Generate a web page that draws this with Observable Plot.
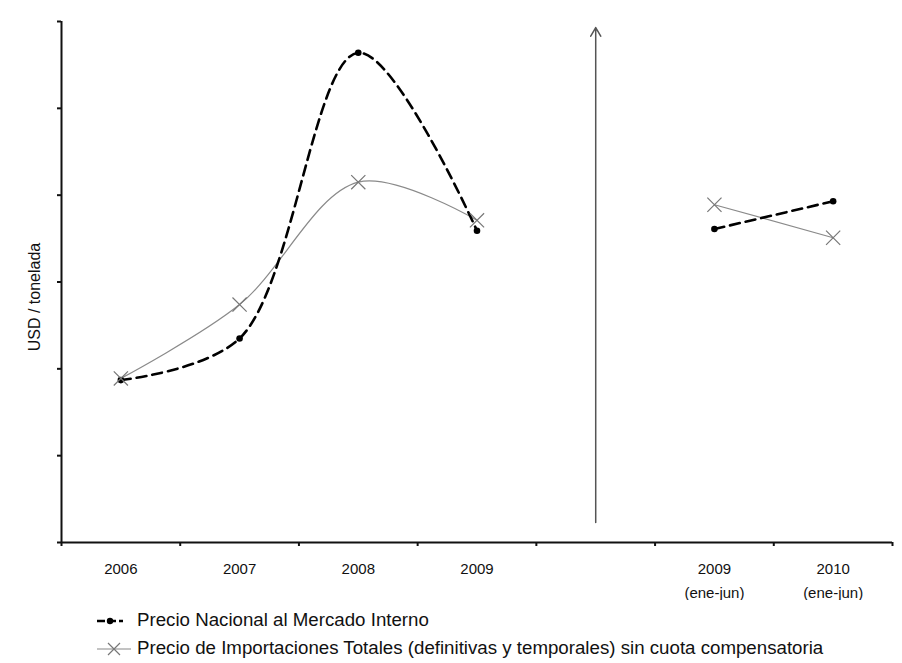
<!DOCTYPE html>
<html>
<head>
<meta charset="utf-8">
<script src="https://cdn.jsdelivr.net/npm/d3@7"></script>
<script src="https://cdn.jsdelivr.net/npm/@observablehq/plot@0.6"></script>
<style>
  body { margin: 0; background: #fff; font-family: "Liberation Sans", Arial, sans-serif; }
  #chart svg { display: block; }
  .legend { padding-left: 97px; margin-top: 6px; font-size: 18.7px; color: #111; }
  .legend .item { height: 28px; line-height: 28px; white-space: nowrap; }
  .legend svg { vertical-align: middle; margin-right: 4px; }
</style>
</head>
<body>
<div id="chart"></div>
<div class="legend">
  <div class="item"><svg width="36" height="14"><line x1="0" y1="7" x2="26" y2="7" stroke="#000" stroke-width="2.5" stroke-dasharray="8,3"></line><circle cx="13" cy="7" r="3.2" fill="#000"></circle></svg>Precio Nacional al Mercado Interno</div>
  <div class="item"><svg width="36" height="14"><line x1="0" y1="7" x2="34" y2="7" stroke="#888" stroke-width="1.2"></line><path d="M11,1L23,13M11,13L23,1" stroke="#777" stroke-width="1.2" fill="none"></path></svg>Precio de Importaciones Totales (definitivas y temporales) sin cuota compensatoria</div>
</div>
<script>
// Categories (index 4 is the empty gap that holds the divider arrow)
const periods = ["2006", "2007", "2008", "2009", "", "2009 (ene-jun)", "2010 (ene-jun)"];
const tickLabels = ["2006", "2007", "2008", "2009", "", "2009\n(ene-jun)", "2010\n(ene-jun)"];
const segments = ["anual", "anual", "anual", "anual", null, "semestral", "semestral"];
// Values in axis-tick units (the y axis has no numeric labels)
const precioNacional = [1.87, 2.35, 5.64, 3.59, null, 3.61, 3.93];
const precioImportaciones = [1.89, 2.74, 4.15, 3.71, null, 3.89, 3.51];
const yTicks = [0, 1, 2, 3, 4, 5, 6];
// Divider arrow in the gap category
const dividerArrow = [{i: 4, from: 0.23, to: 5.93}];

function rows(values) {
  return values.map((v, i) => ({i, v, seg: segments[i]})).filter(d => d.v != null);
}
const nacRows = rows(precioNacional);
const impRows = rows(precioImportaciones);
const boundaries = d3.range(-0.5, periods.length, 1);

const chart = Plot.plot({
  width: 902,
  height: 600,
  marginLeft: 61,
  marginRight: 10,
  marginTop: 21,
  marginBottom: 58,
  style: {fontFamily: "Liberation Sans, Arial, sans-serif", color: "#111", background: "#fff"},
  x: {type: "linear", domain: [-0.5, periods.length - 0.5]},
  y: {domain: [0, 6]},
  marks: [
    Plot.ruleY([0], {stroke: "#111", strokeWidth: 2}),
    Plot.ruleX([-0.5], {stroke: "#111", strokeWidth: 2}),
    Plot.axisY(yTicks, {tickSize: 4, tickFormat: () => "", strokeWidth: 2, label: null}),
    Plot.axisX(boundaries, {tickSize: 4, tickFormat: () => "", strokeWidth: 2, label: null}),
    Plot.axisX(d3.range(periods.length), {tickSize: 0, tickPadding: 14, fontSize: 15, lineHeight: 1.6, tickFormat: i => tickLabels[i], label: null}),
    Plot.text(["USD / tonelada"], {frameAnchor: "left", textAnchor: "middle", rotate: -90, dx: -27, dy: 15, fontSize: 16, fill: "#111"}),
    Plot.arrow(dividerArrow, {x1: "i", x2: "i", y1: "from", y2: "to", stroke: "#555", strokeWidth: 1.5, headLength: 10, bend: 0}),
    Plot.line(impRows, {x: "i", y: "v", z: "seg", curve: "catmull-rom", stroke: "#8a8a8a", strokeWidth: 1.2}),
    Plot.line(nacRows, {x: "i", y: "v", z: "seg", curve: "catmull-rom", stroke: "#000", strokeWidth: 2.6, strokeDasharray: "10,6"}),
    Plot.dot(nacRows, {x: "i", y: "v", r: 3.3, fill: "#000"}),
    Plot.dot(impRows, {x: "i", y: "v", symbol: "times", r: 6.5, stroke: "#777", strokeWidth: 1.2})
  ]
});
document.getElementById("chart").appendChild(chart);
</script>
</body>
</html>
